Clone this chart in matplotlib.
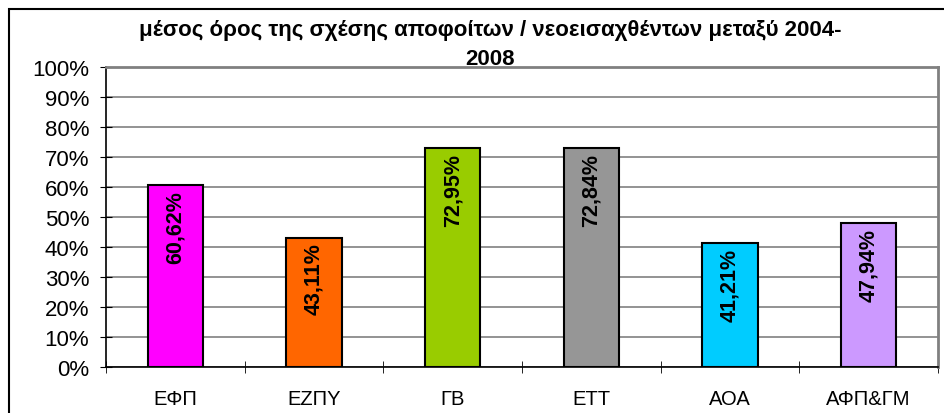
import matplotlib
matplotlib.use('Agg')
import matplotlib.pyplot as plt
from matplotlib.patches import Rectangle
import numpy as np

# data
categories = ['ΕΦΠ', 'ΕΖΠΥ', 'ΓΒ', 'ΕΤΤ', 'ΑΟΑ', 'ΑΦΠ&ΓΜ']
values = [60.62, 43.11, 72.95, 72.84, 41.21, 47.94]
bar_colors = ['#FF00FF', '#FF6600', '#99CC00', '#969696', '#00CCFF', '#CC99FF']
title = 'μέσος όρος της σχέσης αποφοίτων / νεοεισαχθέντων μεταξύ 2004-\n2008'

plt.rcParams['font.family'] = ['Liberation Sans', 'DejaVu Sans']

W, H = 944, 414
fig = plt.figure(figsize=(W / 100, H / 100), dpi=100)

# outer chart frame (runs past right/bottom edge)
fig.patches.append(Rectangle((9 / W, -0.1), 2, (H - 10) / H + 0.1,
                             transform=fig.transFigure, fill=False,
                             edgecolor='black', lw=1.5))

ax = fig.add_axes([106 / W, (H - 368) / H, (938 - 106) / W, (368 - 68) / H])
x = np.arange(len(categories))
bars = ax.bar(x, values, width=0.4, color=bar_colors, edgecolor='black', lw=1.5, zorder=3)

for b, v in zip(bars, values):
    lbl = ('%.2f' % v).replace('.', ',') + '%'
    ax.text(b.get_x() + b.get_width() / 2, v - 1.5, lbl, rotation=90,
            ha='center', va='top', fontsize=15.5, fontweight='bold', zorder=4)

ax.set_xlim(-0.5, len(categories) - 0.5)
ax.set_ylim(0, 100)
ax.set_yticks(np.arange(0, 101, 10))
ax.set_yticklabels(['%d%%' % t for t in range(0, 101, 10)], fontsize=16)
ax.yaxis.grid(True, color='#808080', lw=1.2, zorder=0)
ax.set_xticks(x)
ax.set_xticklabels(categories, fontsize=14.5)
ax.set_xticks(np.arange(-0.5, len(categories)), minor=True)
ax.tick_params(axis='x', which='major', length=0, pad=16)
ax.tick_params(axis='x', which='minor', length=8, direction='inout', color='black')
ax.tick_params(axis='y', length=8, direction='inout', color='black', pad=8)

for s in ['top', 'right']:
    ax.spines[s].set_color('#808080')
    ax.spines[s].set_linewidth(2)
for s in ['left', 'bottom']:
    ax.spines[s].set_color('black')
    ax.spines[s].set_linewidth(1.2)

fig.text(490 / W, (H - 45) / H, title, ha='center', va='center',
         fontsize=16, fontweight='bold', linespacing=1.45)

fig.savefig('out.png', dpi=100)
